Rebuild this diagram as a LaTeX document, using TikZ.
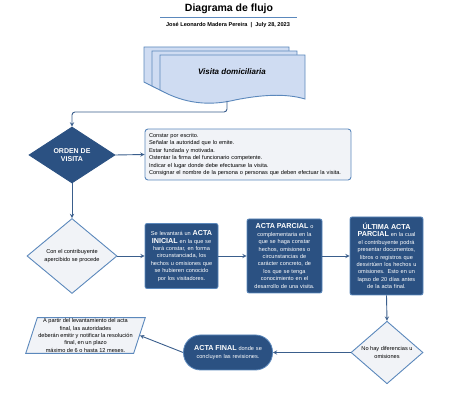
\documentclass[tikz,border=0pt]{standalone}
\usepackage{fontspec}
\setmainfont{Liberation Sans}
\usetikzlibrary{shapes.geometric}

\definecolor{azuloscuro}{HTML}{2B5182}
\definecolor{azulborde}{HTML}{5B88BC}
\definecolor{azulclaro}{HTML}{CFDCF2}
\definecolor{grisclaro}{HTML}{F1F3F7}
\definecolor{linea}{HTML}{3A5E8C}

\newcommand{\txt}{\fontsize{5.6}{7.4}\selectfont}
\newcommand{\grande}[1]{{\fontsize{7.2}{8}\selectfont\bfseries #1}}

\tikzset{
	conn/.style={->,>=stealth,draw=linea,line width=0.9pt},
	caja/.style={rectangle,rounded corners=2pt,fill=azuloscuro,draw=azulborde,line width=0.8pt,
		text=white,align=center,inner sep=2pt,font=\txt},
	rombo/.style={diamond,draw=azulborde,line width=0.9pt,fill=grisclaro,align=center,
		inner sep=0pt,font=\txt},
	hoja/.style={draw=azulborde,line width=0.9pt,fill=azulclaro}
}

\begin{document}
\begin{tikzpicture}[x=1pt,y=-1pt]
	\useasboundingbox (0,0) rectangle (474,411);

	% encabezado
	\node (titulo) at (229,8.5) {\fontsize{10.5}{12}\selectfont\bfseries Diagrama de flujo};
	\draw[azulborde,line width=1.3pt] (160,17.5) -- (297,17.5);
	\node (autor) at (228,25) {\fontsize{5.6}{6}\selectfont\bfseries José Leonardo Madera Pereira \ | \ July 28, 2023};

	% multidocumento
	\foreach \s in {16,8,0} {
		\draw[hoja,shift={(-\s,-\s/2)}] (160,55) -- (305,55) -- (305,99)
			.. controls (285,93) and (260,95) .. (235,100)
			.. controls (210,106) and (185,104) .. (160,90) -- cycle;
	}
	\node (visita) at (232,72) {\fontsize{8}{9}\selectfont\bfseries\itshape Visita domiciliaria};
	\coordinate (docbot) at (227,101);
	\coordinate (giro) at (227,112);

	\node[rombo,fill=azuloscuro,draw=azuloscuro,text=white,minimum width=86pt,minimum height=56pt,
		font=\fontsize{7}{8.5}\selectfont\bfseries] (orden) at (72,155) {ORDEN DE\\VISITA};

	\node[rectangle,rounded corners=3pt,draw=azulborde,line width=0.9pt,fill=grisclaro,
		minimum width=206pt,minimum height=51pt,text width=198pt,align=left,inner sep=4pt,font=\txt]
		(requisitos) at (248,154.5) {Constar por escrito.\\
		Señalar la autoridad que lo emite.\\
		Estar fundada y motivada.\\
		Ostentar la firma del funcionario competente.\\
		Indicar el lugar donde debe efectuarse la visita.\\
		Consignar el nombre de la persona o personas que deben efectuar la visita.};

	\node[rombo,minimum width=90pt,minimum height=75pt] (procede) at (72,256)
		{Con el contribuyente\\apercibido se procede};

	% actas
	\node[caja,minimum width=73pt,minimum height=65pt,text width=68pt] (inicial) at (181.5,256)
		{Se levantará un \grande{ACTA}\\\grande{INICIAL} en la que se\\hará constar, en forma\\circunstanciada, los\\hechos u omisiones que\\se hubieren conocido\\por los visitadores.};
	\node[caja,minimum width=75pt,minimum height=74pt,text width=70pt] (parcial) at (284.5,256)
		{\grande{ACTA PARCIAL} o\\complementaria en la\\que se haga constar\\hechos, omisiones o\\circunstancias de\\carácter concreto, de\\los que se tenga\\conocimiento en el\\desarrollo de una visita.};
	\node[caja,minimum width=73pt,minimum height=78pt,text width=68pt] (ultima) at (386.5,256)
		{\grande{ÚLTIMA ACTA}\\\grande{PARCIAL} en la cual\\el contribuyente podrá\\presentar documentos,\\libros o registros que\\desvirtúen los hechos u\\omisiones. Esto en un\\lapso de 20 días antes\\de la acta final.};

	\node[rombo,minimum width=72pt,minimum height=57pt] (nohay) at (387,352.5)
		{No hay diferencias u\\omisiones};

	\node[caja,rounded corners=17pt,minimum width=89pt,minimum height=35pt,text width=82pt] (final) at (228,352.5)
		{\grande{ACTA FINAL} donde se\\concluyen las revisiones.};

	\node[trapezium,trapezium left angle=72,trapezium right angle=108,trapezium stretches=true,
		draw=azulborde,line width=0.9pt,fill=grisclaro,align=center,inner sep=1pt,
		minimum width=106pt,minimum height=35pt,font=\txt] (plazo) at (85.5,335.5)
		{A partir del levantamiento del acta\\final, las autoridades\\deberán emitir y notificar la resolución\\final, en un plazo\\máximo de 6 o hasta 12 meses.};

	% conectores
	\draw[conn,rounded corners=3pt] (docbot) -- (giro) -| (orden.north);
	\draw[conn] (orden.east) -- (requisitos.west);
	\draw[conn] (orden.south) -- (procede.north);
	\draw[conn] (procede.east) -- (inicial.west);
	\draw[conn] (inicial.east) -- (parcial.west);
	\draw[conn] (parcial.east) -- (ultima.west);
	\draw[conn] (ultima.south) -- (nohay.north);
	\draw[conn] (nohay.west) -- (final.east);
	\draw[conn] (final.west) -- (plazo.east);
\end{tikzpicture}
\end{document}
